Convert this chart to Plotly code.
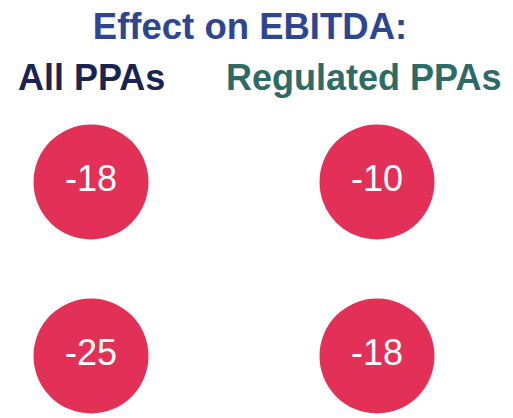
import plotly.graph_objects as go

title_text = "Effect on EBITDA:"
groups = ["All PPAs", "Regulated PPAs"]
group_colors = ["#1B2351", "#2E6B66"]
rows = [0, 1]
all_ppas = [-18, -25]
regulated_ppas = [-10, -18]
series = [all_ppas, regulated_ppas]

circle_color = "#E33056"

fig = go.Figure()
for gi, (g, vals) in enumerate(zip(groups, series)):
    fig.add_trace(go.Scatter(
        x=[gi] * len(vals), y=rows,
        mode="markers+text",
        marker=dict(size=115, color=circle_color, line=dict(width=0)),
        text=[str(v) for v in vals],
        textposition="middle center",
        textfont=dict(family="Liberation Sans, Arial", size=36, color="white"),
        hoverinfo="skip", showlegend=False, cliponaxis=False,
    ))

W, H = 513, 418
x0px, x1px = 91, 377
y0px, y1px = 182, 356
sx = x1px - x0px
sy = y1px - y0px
fig.update_layout(
    width=W, height=H,
    margin=dict(l=0, r=0, t=0, b=0),
    paper_bgcolor="white", plot_bgcolor="white",
    xaxis=dict(range=[-x0px / sx, (W - x0px) / sx], visible=False, fixedrange=True),
    yaxis=dict(range=[(H - y0px) / sy, -y0px / sy], visible=False, fixedrange=True),
    title=dict(text="<b>" + title_text + "</b>", x=250 / W, xanchor="center",
               y=1 - 26 / H, yanchor="middle",
               font=dict(family="Liberation Sans, Arial", size=36.5, color="#2E4692")),
)
header_x = [91, 363]
for g, c, hx in zip(groups, group_colors, header_x):
    fig.add_annotation(text="<b>" + g + "</b>", xref="paper", yref="paper",
                       x=hx / W, y=1 - 77 / H, xanchor="center", yanchor="middle",
                       showarrow=False,
                       font=dict(family="Liberation Sans, Arial", size=36, color=c))

fig.write_html("out.html", config={"displayModeBar": False},
               post_script="document.body.style.margin='0';document.body.style.overflow='hidden';")
